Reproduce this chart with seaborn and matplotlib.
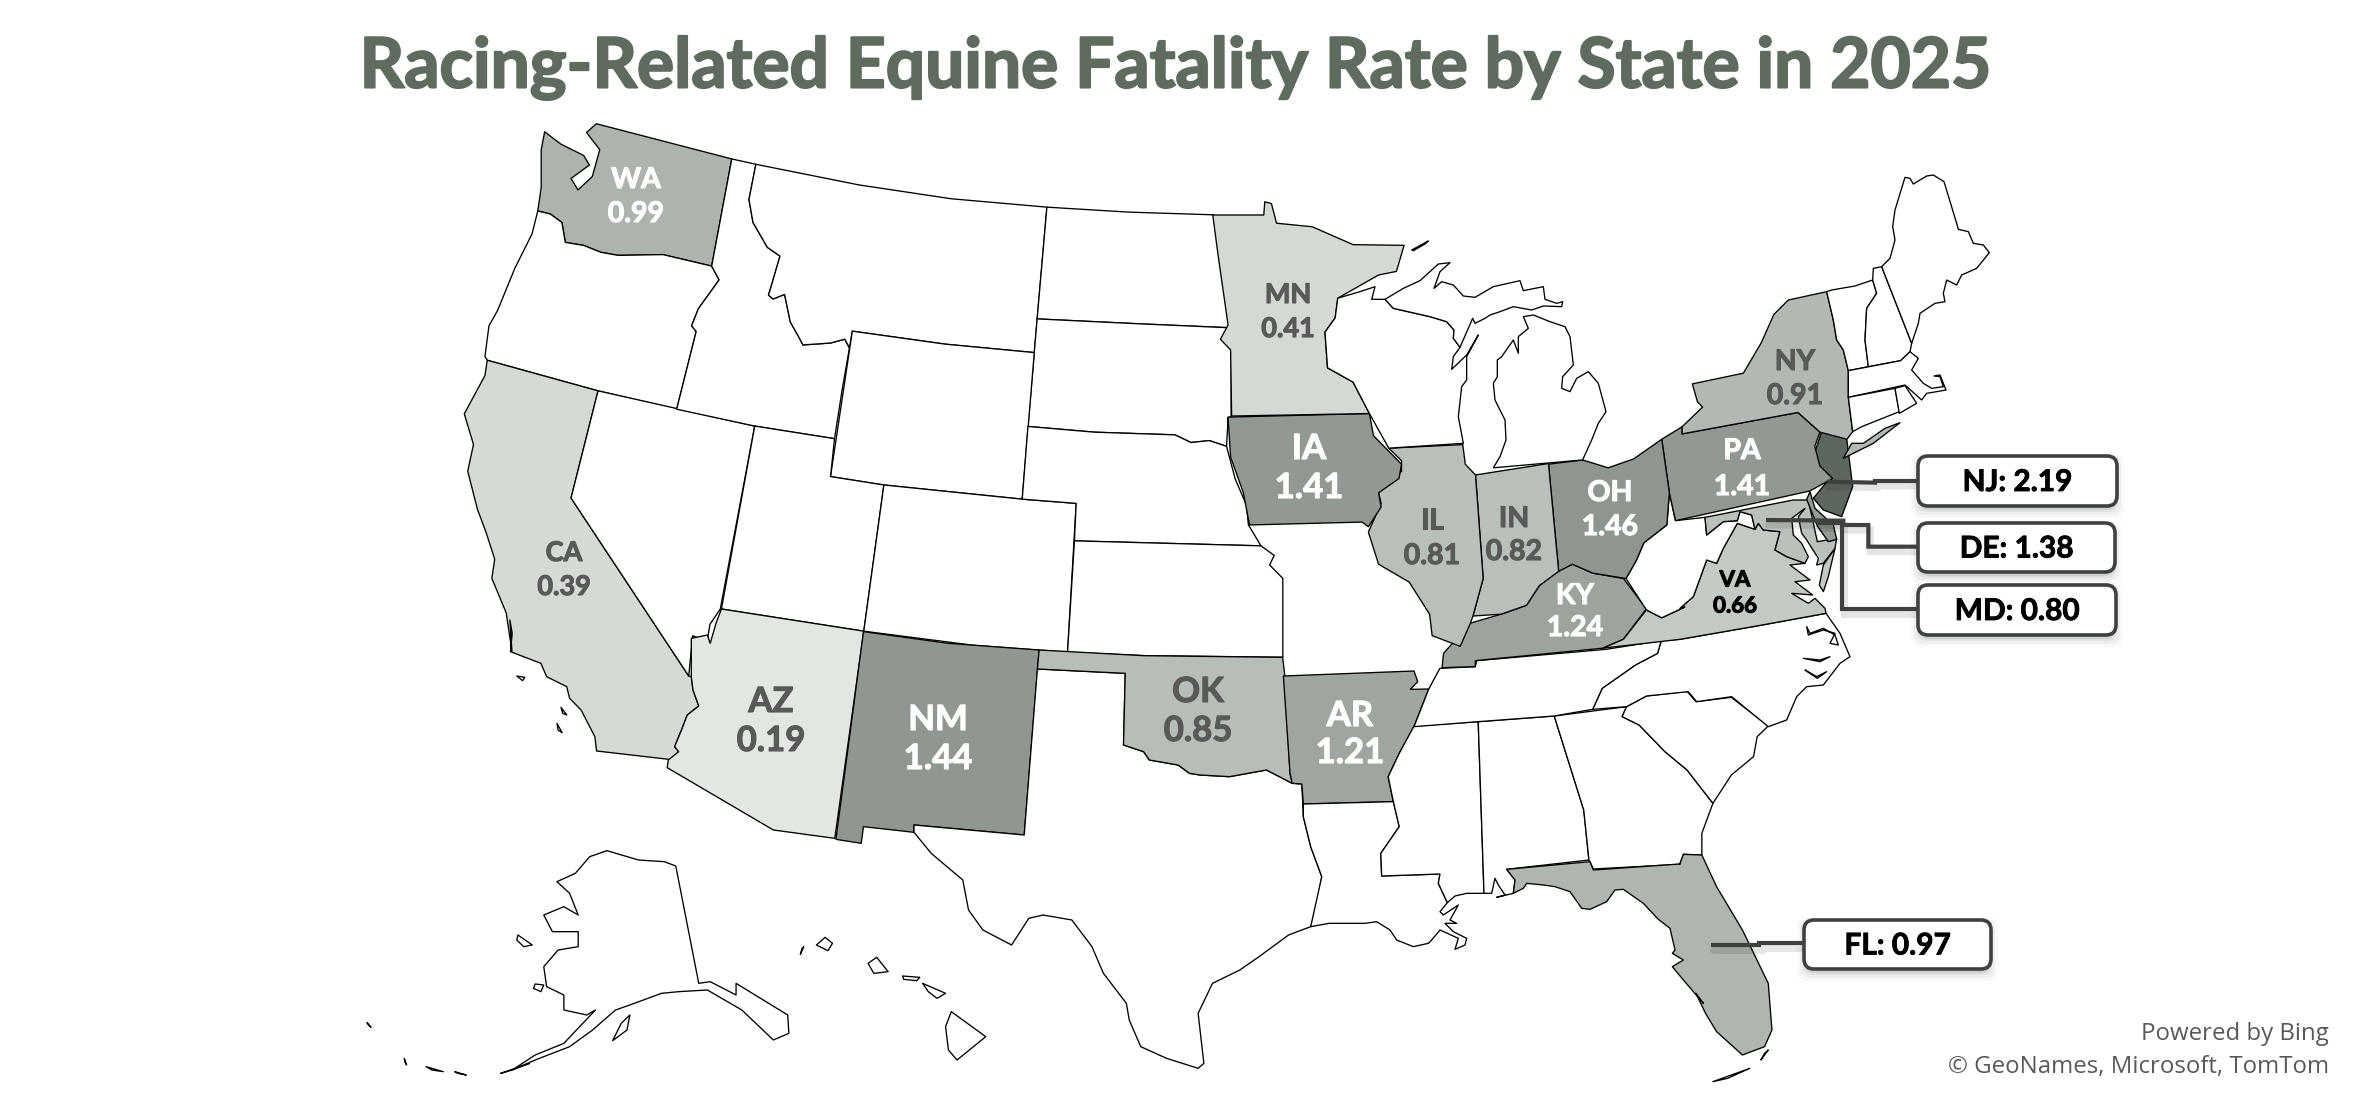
import matplotlib
matplotlib.use("Agg")
import matplotlib.pyplot as plt
import matplotlib.patheffects as pe
from matplotlib.patches import Polygon, FancyBboxPatch
from matplotlib.colors import Normalize
import seaborn as sns

sns.set_theme(style="white")
plt.rcParams['font.family'] = ['Lato', 'DejaVu Sans']

# ---------- data ----------
TITLE = "Racing-Related Equine Fatality Rate by State in 2025"
MAP_STATES = ["WA", "MN", "CA", "AZ", "NM", "OK", "AR", "IA", "IL", "IN", "OH", "KY", "PA", "NY", "VA"]
MAP_RATES = [0.99, 0.41, 0.39, 0.19, 1.44, 0.85, 1.21, 1.41, 0.81, 0.82, 1.46, 1.24, 1.41, 0.91, 0.66]
CALLOUT_STATES = ["NJ", "DE", "MD", "FL"]
CALLOUT_RATES = [2.19, 1.38, 0.80, 0.97]
FOOTER = ["Powered by Bing", "\u00a9 GeoNames, Microsoft, TomTom"]

# base-map geometry: outline vertices in measuring frames
FRAMES = {"a": (400, 100, .574, .3827), "b": (1200, 100, .5102, .3571), "c": (1700, 400, 1/3, 1/3),
          "d": (340, 620, .574, 1/3), "e": (1200, 620, .738, 1/3),
          "f": (1780, 160, 1/3, 1/3), "g": (1360, 240, 1/3, 1/3), "h": (1680, 500, 1/3, 1/3), "i": (1360, 860, 1/3, 1/3)}
OUTLINES = {
 "WA": [("a", [(342,62),(578,154),(543,434),(458,404),(380,406),(350,398),(320,380),(288,372),(282,320),(262,298),(240,290),(246,228),(246,130),(252,83),(280,115),(320,145),(330,170),(298,205),(310,235),(335,200),(348,130),(325,85)])],
 "OR": [("a", [(240,290),(262,298),(282,320),(288,372),(320,380),(350,398),(380,406),(458,404),(543,434),(556,470),(520,545),(508,590),(516,605),(482,808),(345,760),(152,680),(148,670),(155,590),(170,550),(200,440),(230,350)])],
 "CA": [("a", [(152,680),(345,760),(298,1040),(503,1505)]),
        ("d", [(612,170),(615,210),(625,258),(605,285),(595,330),(583,380),(590,395),(583,420),(447,393),(444,350),(420,270),(400,235),(395,200),(360,170),(350,130),(297,95),(300,40),(296,0)]),
        ("a", [(195,1440),(185,1340),(160,1250),(165,1200),(150,1130),(135,1070),(118,970),(128,900),(112,820),(130,770),(148,720)])],
 "NV": [("a", [(345,760),(618,852),(558,1330),(540,1370),(535,1415),(510,1400),(503,1505),(298,1040)])],
 "ID": [("a", [(578,154),(620,168),(608,260),(615,320),(640,385),(662,408),(648,480),(642,510),(650,520),(670,508),(680,580),(695,620),(702,640),(750,635),(775,625),(783,648),(770,760),(757,885),(618,852),(482,808),(516,605),(508,590),(520,545),(556,470),(543,434)])],
 "MT": [("a", [(620,168),(800,222),(960,258),(1127,280),(1105,660),(950,638),(788,604),(783,648),(775,625),(750,635),(702,640),(695,620),(680,580),(670,508),(650,520),(642,510),(648,480),(662,408),(640,385),(615,320),(608,260)])],
 "ND": [("a", [(1127,280),(1270,293),(1417,300),(1445,595),(1290,585),(1110,572)])],
 "SD": [("a", [(1110,572),(1290,585),(1443,595),(1432,625),(1448,650),(1448,828),(1442,830),(1442,850),(1440,905),(1410,890),(1378,895),(1350,875),(1210,868),(1094,853)])],
 "WY": [("a", [(788,604),(950,638),(1105,660),(1084,1043),(843,1006),(750,984)])],
 "UT": [("a", [(618,852),(757,885),(750,984),(843,1006),(808,1388),(560,1330)])],
 "CO": [("a", [(843,1006),(1084,1043),(1178,1054),(1163,1443),(1000,1425),(808,1388)])],
 "NE": [("a", [(1094,853),(1210,868),(1350,875),(1378,895),(1410,890),(1440,905),(1455,990),(1475,1060),(1478,1110),(1500,1165),(1175,1152),(1178,1054),(1084,1043)])],
 "KS": [("a", [(1175,1152),(1500,1165),(1523,1190),(1515,1215),(1538,1250),(1538,1456),(1300,1452),(1163,1443)])],
 "AZ": [("a", [(560,1330),(808,1388)]),
        ("d", [(862,655),(755,630),(570,443),(572,420),(590,395),(583,380),(595,330),(605,285),(625,258),(615,210),(612,170),(612,55),(640,45),(645,70),(655,10)])],
 "NM": [("d", [(912,35),(1060,70),(1218,90),(1192,645),(1000,615),(1000,637),(912,620),(908,670),(864,658)])],
 "TX": [("d", [(1215,147),(1368,160),(1365,375),(1400,395),(1410,420),(1460,435),(1480,460)]),
        ("e", [(0,465),(40,470),(90,450),(125,490),(138,492),(140,590),(150,680),(165,770),(155,890),(150,920),(120,945),(80,1010),(54,1050)]),
        ("d", [(1520,1090),(1495,1180),(1505,1330),(1495,1345),(1440,1315),(1395,1280),(1375,1200),(1370,1150),(1330,1060),(1310,980),(1275,900),(1225,885),(1200,895),(1170,975),(1120,930),(1095,870),(1085,780),(1030,700),(1000,637),(1000,615),(1192,645)])],
 "OK": [("d", [(1215,147),(1218,90),(1400,107)]),
        ("e", [(112,112),(115,168),(122,460),(125,490),(90,450),(40,470),(0,465)]),
        ("d", [(1480,460),(1460,435),(1410,420),(1400,395),(1365,375),(1368,160)])],
 "AR": [("e", [(113,168),(290,153),(295,185),(285,208),(310,207),(290,320),(270,400),(255,470),(262,545),(140,552),(138,492),(125,490),(122,460)])],
 "LA": [("e", [(140,552),(262,545),(270,620),(245,700)]),
        ("i", [(65,48),(240,42),(235,70),(262,128),(240,155),(250,165),(295,135),(270,180),(290,190),(255,190),(280,215),(320,235),(315,255),(285,268),(295,235),(240,210),(215,240),(205,250),(160,260),(110,240),(90,210),(50,185),(15,190)]),
        ("e", [(175,910),(150,920),(165,770),(150,680),(140,590)])],
 "MS": [("e", [(290,318),(377,305)]),
        ("i", [(372,100),(320,100),(285,108),(262,128),(235,70),(240,42),(65,48)]),
        ("e", [(245,700),(270,620),(262,545),(255,470),(270,400)])],
 "AL": [("e", [(377,305),(480,288),(520,570),(527,720)]),
        ("i", [(440,28),(465,60),(460,100),(410,112),(435,105),(415,75),(405,55),(395,100),(372,100)])],
 "GA": [("e", [(480,288),(578,260),(572,290),(595,315),(630,395),(660,450),(695,550),(680,640),(680,705),(655,703),(650,733),(533,747),(527,720),(520,570)])],
 "FL": [("i", [(440,28),(690,5),(700,30),(960,12)]),
        ("e", [(650,733),(655,703),(680,705),(700,800),(735,930),(770,1090),(775,1230),(765,1280),(735,1305),(700,1235),(685,1180),(672,1120),(682,1150),(655,1080),(640,1040),(655,1020),(640,1000)]),
        ("i", [(945,270),(930,205),(895,178),(850,130),(790,88),(765,90),(740,125),(690,148),(665,145),(630,95),(585,80),(550,75),(500,70),(490,85),(460,100),(465,60)])],
 "SC": [("e", [(578,260),(605,228),(660,214),(672,245),(720,232),(770,318),(755,350),(750,410),(720,465),(695,550),(660,450),(630,395),(595,315),(572,290)])],
 "NC": [("e", [(625,62)]),
        ("h", [(0,418),(230,378),(438,340),(480,400),(510,470),(480,490),(430,555),(380,560),(350,590),(320,660),(265,680),(155,590),(50,605),(25,575)]),
        ("e", [(605,228),(578,260),(532,268),(545,205),(590,135),(620,100)])],
 "NC1": [("h", [(380,380),(385,405),(430,390),(465,400),(450,430),(475,435),(465,405),(430,385),(390,400)])],
 "NC2": [("h", [(370,475),(420,480),(450,470),(420,485)])],
 "NC3": [("h", [(375,510),(410,530),(440,515),(412,535)])],
 "TN": [("e", [(290,320),(310,207),(325,145),(373,140),(375,122),(550,88),(625,62),(620,100),(590,135),(545,205),(532,268),(480,288),(377,305)])],
 "KY": [("e", [(328,143),(330,100)]),
        ("b", [(530,1465),(590,1440),(640,1415),(665,1360),(700,1320),(730,1300),(770,1325),(830,1340),(875,1425),(830,1510),(790,1535)]),
        ("e", [(373,122),(373,140)])],
 "VA": [("b", [(790,1535),(830,1510),(875,1428),(905,1450),(950,1420)]),
        ("h", [(0,325),(40,290),(80,180),(110,190),(130,145),(172,70),(225,88),(235,70),(250,90),(300,95),(285,150),(320,170),(375,190),(330,195),(390,240),(345,245),(398,285),(335,280),(385,310),(405,295),(435,325),(438,340),(230,378),(0,418)])],
 "VA2": [("h", [(465,145),(430,195),(418,255),(430,275),(445,230)])],
 "WV": [("b", [(875,1428),(905,1450),(950,1420)]),
        ("h", [(0,325),(40,290),(80,180),(110,190),(130,145),(172,70),(225,88),(215,45),(180,35),(172,62),(130,65),(80,105),(75,52)]),
        ("b", [(932,1178),(920,1100),(915,1190),(870,1240),(855,1290),(835,1340)])],
 "MD": [("h", [(75,52),(340,0),(385,0),(412,125),(470,115),(465,145),(430,190),(410,195),(415,175),(380,120),(365,100),(355,50),(375,25),(335,55),(340,105),(365,130),(385,170),(375,190),(320,170),(285,150),(300,95),(250,90),(235,70),(225,88),(215,45),(180,35),(172,62),(130,65),(80,105)])],
 "DE": [("c", [(320,298),(330,275),(345,325),(400,375),(410,418),(385,425),(352,378)])],
 "NJ": [("c", [(365,95),(440,115),(450,195),(458,260),(425,350),(370,330),(340,295),(385,240),(345,175),(345,155)])],
 "PA": [("b", [(905,950),(945,915),(945,935),(1172,875),(1215,930),(1205,970),(1215,1025),(1240,1060),(1195,1095),(932,1178),(920,1100)])],
 "NY": [("b", [(945,935),(1172,875),(1215,930),(1268,950)]),
        ("f", [(218,815),(205,712),(205,632),(190,570),(170,540),(160,480),(140,395),(25,420)]),
        ("b", [(1125,600),(1100,680),(1065,765),(965,795),(975,845),(985,860),(945,915)])],
 "LI": [("c", [(430,175),(455,130),(490,130),(555,85),(600,68),(520,130),(460,160)])],
 "OH": [("b", [(683,1020),(750,1008),(800,1030),(850,1005),(905,950),(920,1100),(915,1190),(870,1240),(855,1290),(835,1340),(770,1325),(730,1300),(703,1320)])],
 "IN": [("b", [(540,1050),(683,1018),(703,1320),(665,1360),(640,1415),(590,1440),(535,1445),(555,1340)])],
 "IL": [("b", [(370,975),(515,965),(520,1020),(540,1050),(555,1340),(535,1445),(530,1465),(510,1530),(455,1500),(450,1440),(410,1350),(350,1300),(330,1210),(355,1130),(350,1100),(395,1040),(395,1010)])],
 "IA": [("b", [(55,888),(332,878),(340,940),(395,1020),(390,1060),(350,1100),(355,1140),(330,1195),(318,1182),(97,1190),(85,1100),(60,1000)])],
 "MN": [("b", [(25,322),(125,322),(127,285),(140,290),(150,345),(220,355),(300,405),(400,407),(385,480),(350,490),(270,555),(265,610),(245,650),(250,750),(300,790),(332,878),(62,885),(60,700),(40,670),(55,630),(35,430)])],
 "WI": [("g", [(0,155),(45,140),(35,178),(75,178),(100,205),(210,230),(260,245),(282,270),(280,295),(300,322),(280,350),(275,388),(320,345),(355,285),(320,350),(320,420),(305,440),(295,530),(310,610)]),
        ("b", [(370,975),(332,878),(300,790),(250,750),(245,650),(265,610),(270,555)])],
 "UP": [("g", [(75,178),(130,145),(180,122),(235,72),(270,68),(240,95),(222,145),(245,125),(280,135),(310,168),(345,172),(400,140),(480,122),(490,152),(550,140),(555,178),(590,190),(608,185),(605,200),(550,198),(515,210),(460,200),(420,215),(390,225),(375,235),(345,250),(338,235),(300,322),(280,295),(282,270),(260,245),(210,230),(100,205)])],
 "MI": [("b", [(575,1030),(750,1008)]),
        ("g", [(670,655),(695,600),(715,550),(738,515),(715,430),(685,395),(650,415),(630,455),(605,445),(608,410),(640,375),(630,290),(615,260),(570,245),(520,225),(490,230),(505,265),(475,290),(475,340),(460,300),(425,350),(412,360),(412,410),(400,430),(405,480),(435,540),(438,600),(420,650)])],
 "IR": [("g", [(155,30),(205,3),(195,12),(160,32)])],
 "VT": [("f", [(155,390),(225,378),(278,360),(290,400),(260,445),(255,540),(265,620),(205,632),(190,570),(170,540),(160,480),(140,395)])],
 "NH": [("f", [(280,325),(305,320),(395,550),(390,575),(362,602),(265,620),(255,540),(260,445),(290,400),(278,360)])],
 "ME": [("f", [(305,320),(330,295),(345,240),(338,200),(345,150),(375,52),(390,55),(400,72),(440,48),(460,45),(492,65),(530,190),(535,208),(565,215),(580,250),(610,255),(628,278),(590,325),(545,345),(530,375),(500,360),(490,400),(495,425),(465,430),(420,460),(415,490),(395,550)])],
 "MA": [("f", [(205,632),(362,602),(390,575),(415,595),(395,630),(430,670),(455,685),(490,680),(480,650),(462,648),(480,645),(498,690),(470,695),(440,700),(425,720),(375,675),(205,712)])],
 "CT": [("f", [(205,712),(345,685),(358,755),(245,800),(218,815)])],
 "RI": [("f", [(345,685),(375,677),(410,730),(358,760)])],
 "AK": [("d", [(465,692),(520,720),(565,725),(585,738),(625,1090),(645,1085),(690,1125),(690,1090),(780,1185),(782,1240),(755,1260),(700,1170),(640,1110),(590,1115),(560,1120),(505,1155),(480,1170),(440,1230),(400,1280),(340,1320),(300,1350),(340,1305),(390,1270),(445,1170),(430,1185),(390,1170),(390,1125),(360,1100),(355,1040),(380,990),(415,980),(415,935),(370,935),(355,885),(390,860),(415,885),(400,820),(378,785),(410,760),(435,710)])],
 "HI1": [("d", [(1065,1175),(1125,1250),(1075,1320),(1060,1290),(1055,1220)])],
 "HI2": [("d", [(1015,1090),(1055,1120),(1040,1135),(1025,1115)])],
 "HI3": [("d", [(980,1068),(1010,1072),(1005,1082),(982,1078)])],
 "HI4": [("d", [(935,1012),(955,1055),(930,1060),(920,1030)])],
 "HI5": [("d", [(845,952),(858,970),(850,992),(830,975)])],
 "HI6": [("d", [(808,980),(802,1003),(805,985)])],
 "AK2": [("d", [(310,945),(335,975),(320,980),(308,960)])],
 "AK3": [("d", [(340,1092),(355,1095),(350,1115),(337,1105)])],
 "AK4": [("d", [(505,1185),(500,1230),(475,1262),(490,1210)])],
 "AK5": [("d", [(150,1340),(180,1355),(160,1350)])],
 "AK6": [("d", [(200,1355),(220,1365),(205,1360)])],
 "AK7": [("d", [(280,1360),(330,1330),(300,1350)])],
 "AK8": [("d", [(47,1208),(54,1222),(50,1215)])],
 "AK9": [("d", [(112,1315),(116,1335),(113,1325)])],
 "CI1": [("d", [(385,262),(395,285),(388,280)])],
 "CI2": [("d", [(378,310),(387,338),(380,330)])],
 "CI3": [("d", [(308,168),(322,172),(318,182)])],
 "FK1": [("e", [(695,1385),(745,1345),(715,1375)])],
 "FK2": [("e", [(770,1290),(760,1320),(765,1300)])],
}
LABEL_SPOTS = {  # state: (x, y of code, y of value, size, colour)
 "WA": (636,180,214,20.5,"white"), "MN": (1288,295,329,19.5,"#595959"), "CA": (564,553,587,19.5,"#595959"),
 "AZ": (771,702,741,25,"#595959"), "NM": (938,720,759,25,"white"), "OK": (1198,692,731,25,"#595959"),
 "AR": (1350,716,753,25,"white"), "IA": (1309,449,488,25,"white"), "IL": (1432,521,556,20.5,"#595959"),
 "IN": (1514,519,552,20.5,"#595959"), "OH": (1610,493,527,20.5,"white"), "KY": (1575,596,628,20.5,"white"),
 "PA": (1742,451,487,20.5,"white"), "NY": (1795,362,396,20.5,"#595959"), "VA": (1735,580,606,16,"black"),
}
CALLOUT_BOXES = {"NJ": (1918,456,199,50), "DE": (1918,523,197,49), "MD": (1918,585,198,50), "FL": (1804,920,187,49)}
LEADERS = {
 "NJ": ("c", [(380,245),(525,248),(525,243),(655,243)]),
 "DE": ("c", [(198,360),(430,362),(430,375),(505,375),(505,440),(655,440)]),
 "MD": ("c", [(350,370),(425,370),(425,628),(655,628)]),
 "FL": ("e", [(692,976),(758,976),(758,970),(818,970)]),
}

def to_px(frame, pts):
    x0, y0, sx, sy = FRAMES[frame]
    return [(x0 + x * sx, y0 + y * sy) for x, y in pts]

def outline(parts):
    out = []
    for frame, pts in parts:
        out += to_px(frame, pts)
    return out

def heavy(col, width=0.8):
    return [pe.withStroke(linewidth=width, foreground=col)]

rates = dict(zip(MAP_STATES + CALLOUT_STATES, MAP_RATES + CALLOUT_RATES))
cmap = sns.blend_palette(["#E2E7E2", "#5E675F"], as_cmap=True)
norm = Normalize(0.19, 2.19)

fig = plt.figure(figsize=(23.57, 11.09), dpi=100, facecolor="white")
ax = fig.add_axes([0, 0, 1, 1])
ax.set_xlim(0, 2357)
ax.set_ylim(1109, 0)
ax.axis("off")
sns.despine(ax=ax, left=True, bottom=True)

ALIAS = {"LI": "NY", "VA2": "VA"}
for name, parts in OUTLINES.items():
    key = ALIAS.get(name, name)
    face = cmap(norm(rates[key])) if key in rates else "white"
    ax.add_patch(Polygon(outline(parts), closed=True, facecolor=face, edgecolor="black", lw=0.95, joinstyle="round", zorder=2))

for st in MAP_STATES:
    x, y1, y2, size, col = LABEL_SPOTS[st]
    for y, s in ((y1, st), (y2, f"{rates[st]:.2f}")):
        ax.text(x, y, s, ha="center", va="center", fontsize=size, fontweight="bold", color=col, zorder=4,
                path_effects=heavy(col))

for st, (frame, pts) in LEADERS.items():
    p = to_px(frame, pts)
    xs, ys = zip(*p)
    ax.plot([v + 2 for v in xs], [v + 5 for v in ys], color="#000000", alpha=0.10, lw=5, zorder=3, solid_joinstyle="miter")
    ax.plot(xs, ys, color="#404040", lw=3, zorder=5, solid_joinstyle="miter", solid_capstyle="butt")

for st in CALLOUT_STATES:
    x, y, w, h = CALLOUT_BOXES[st]
    for grow, alpha in ((9, 0.03), (6, 0.05), (3, 0.07), (1, 0.10)):
        ax.add_patch(FancyBboxPatch((x - grow + 2, y - grow + 7), w + 2 * grow - 4, h + 2 * grow - 4,
                                    boxstyle="round,pad=0,rounding_size=10", fc="#30402f", ec="none", alpha=alpha, zorder=5))
    ax.add_patch(FancyBboxPatch((x, y), w, h, boxstyle="round,pad=0,rounding_size=10",
                                fc="white", ec="#404040", lw=2.6, zorder=6))
    ax.text(x + w / 2, y + h / 2 + 1, f"{st}: {rates[st]:.2f}", ha="center", va="center",
            fontsize=21.5, fontweight="bold", color="black", zorder=7, path_effects=heavy("black", 0.6))

ax.text(1177, 69, TITLE, ha="center", va="center", fontsize=50, fontweight="bold", color="#5F6B5E",
        path_effects=heavy("#5F6B5E", 1.5))
ax.text(2329, 1034, FOOTER[0], ha="right", va="center", fontsize=17.3, color="#595959", family=["Open Sans", "DejaVu Sans"])
ax.text(2329, 1067, FOOTER[1], ha="right", va="center", fontsize=17.3, color="#595959", family=["Open Sans", "DejaVu Sans"])

fig.savefig("out.png", dpi=100, facecolor="white")
